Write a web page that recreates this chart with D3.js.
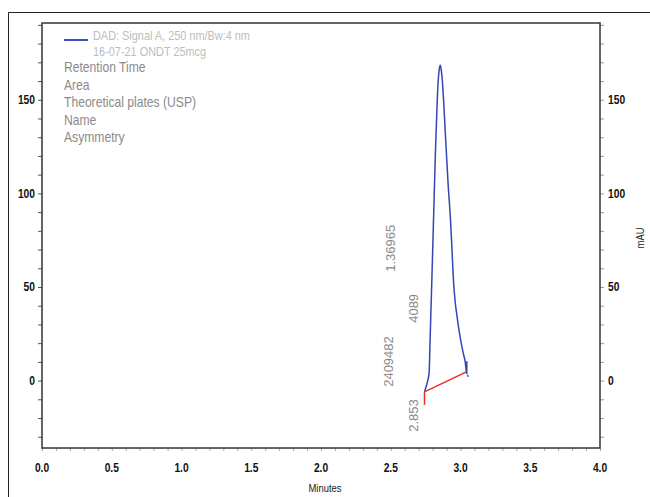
<!DOCTYPE html>
<html><head><meta charset="utf-8">
<script src="https://cdn.jsdelivr.net/npm/d3@7/dist/d3.min.js"></script>
<style>body{margin:0;background:#fff}svg{display:block}</style>
</head><body>
<svg id="chart" width="650" height="497"></svg>
<script>
// ---- data ----
const time   = [2.742, 2.760, 2.775, 2.782, 2.790, 2.800, 2.810, 2.820, 2.830, 2.840, 2.848, 2.855, 2.862, 2.870, 2.880, 2.890, 2.900, 2.912, 2.927, 2.939, 2.950, 2.962, 2.975, 2.990, 3.004, 3.020, 3.034, 3.042, 3.063];
const signal = [-6.0, -1.5,  4.0,  22,   42,   68,    95,    121,   143,   160,   166.5, 168.5, 166,   160,   148,   134,   120,   104,   87.6,  70,    53,    42,    34.4,  26.5,  20.5,  14.5,  9.9,   4.5,   0.8];
const baselineTime   = [2.742, 3.038];
const baselineSignal = [-6.0, 4.5];
const xTicks = [0, 0.5, 1.0, 1.5, 2.0, 2.5, 3.0, 3.5, 4.0];
const yTicks = [0, 50, 100, 150];
const legendSeries = "DAD: Signal A, 250 nm/Bw:4 nm";
const legendSample = "16-07-21 ONDT 25mcg";
const peakFields = ["Retention Time", "Area", "Theoretical plates (USP)", "Name", "Asymmetry"];
const peakValues = ["2.853", "2409482", "4089", "", "1.36965"];
const xTitle = "Minutes";
const yTitle = "mAU";

// ---- layout ----
const svg = d3.select("#chart");
const L = 42, R = 600, T = 23, B = 448;
const x = d3.scaleLinear().domain([0, 4]).range([L, R]);
const y = d3.scaleLinear().domain([-36, 191]).range([B, T]);
const sans = "'Liberation Sans',Arial,sans-serif";
const SX = 0.82; // condensed look

function ntext(parent, tx, ty, str, size, fill, anchor, rot, weight) {
  const g = parent.append("g").attr("transform", `translate(${tx},${ty})` + (rot ? ` rotate(${rot})` : "") + ` scale(${SX},1)`);
  return g.append("text").attr("font-family", sans).attr("font-size", size).attr("fill", fill)
    .attr("font-weight", weight || "normal")
    .attr("text-anchor", anchor || "start").text(str);
}

// outer frame (only left/top visible)
svg.append("line").attr("x1", 8.5).attr("x2", 8.5).attr("y1", 12.5).attr("y2", 497).attr("stroke", "#222");
svg.append("line").attr("x1", 8.5).attr("x2", 650).attr("y1", 12.5).attr("y2", 12.5).attr("stroke", "#222");

// axis ticks via d3 axes
const minorY = d3.range(-30, 191, 10);
const minorX = d3.range(0, 4.001, 0.1);
const yLeft = svg.append("g").attr("transform", `translate(${L},0)`)
  .call(d3.axisLeft(y).tickValues(minorY).tickSize(4).tickFormat(""));
const yRight = svg.append("g").attr("transform", `translate(${R},0)`)
  .call(d3.axisRight(y).tickValues(minorY).tickSize(4).tickFormat(""));
const xBot = svg.append("g").attr("transform", `translate(0,${B})`)
  .call(d3.axisBottom(x).tickValues(minorX).tickSize(3).tickFormat(""));
[yLeft, yRight, xBot].forEach(g => {
  g.select(".domain").remove();
  g.selectAll(".tick line").attr("stroke", "#555");
});
xBot.selectAll(".tick line").attr("stroke", "#aaa");
yRight.selectAll(".tick line").attr("stroke", "#999");

// tick labels (positions from the scales)
const tl = svg.append("g");
yTicks.forEach(v => {
  ntext(tl, L - 7, y(v) + 4.5, String(v), 12.5, "#111", "end", 0, 600);
  ntext(tl, R + 8, y(v) + 4.5, String(v), 12.5, "#111", "start", 0, 600);
});
xTicks.forEach(v => ntext(tl, x(v), B + 24, d3.format(".1f")(v), 12.5, "#111", "middle", 0, 600));

// plot box
svg.append("rect").attr("x", L).attr("y", T).attr("width", R - L).attr("height", B - T)
  .attr("fill", "none").attr("stroke", "#333").attr("stroke-width", 1.5);

// titles
ntext(svg, 325, 492, xTitle, 11.5, "#1a1a1a", "middle");
ntext(svg, 644, 238, yTitle, 11.5, "#1a1a1a", "middle", -90);

// legend
svg.append("line").attr("x1", 64).attr("x2", 88).attr("y1", 40).attr("y2", 40)
  .attr("stroke", "#3a4fc0").attr("stroke-width", 2);
ntext(svg, 93, 39.5, legendSeries, 13.3, "#bdbdbd");
ntext(svg, 93, 55.5, legendSample, 13.3, "#bdbdbd");
peakFields.forEach((d, i) => ntext(svg, 64, 72 + i * 17.5, d, 14.8, "#8a8a8a"));

// signal trace
const line = d3.line().x(i => x(time[i])).y(i => y(signal[i])).curve(d3.curveMonotoneX);
svg.append("path").attr("d", line(d3.range(time.length - 1)))
  .attr("fill", "none").attr("stroke", "#3446b4").attr("stroke-width", 1.5);
const n = time.length - 1;
svg.append("line").attr("x1", x(time[n - 1])).attr("y1", y(signal[n - 1]))
  .attr("x2", x(time[n])).attr("y2", y(signal[n]))
  .attr("stroke", "#3446b4").attr("stroke-width", 1.5).attr("stroke-dasharray", "0,3,2,10");

// baseline + markers
svg.append("line").attr("x1", x(baselineTime[0])).attr("y1", y(baselineSignal[0]))
  .attr("x2", x(baselineTime[1])).attr("y2", y(baselineSignal[1]))
  .attr("stroke", "#f02a2a").attr("stroke-width", 1.5);
svg.append("line").attr("x1", x(baselineTime[0])).attr("x2", x(baselineTime[0]))
  .attr("y1", y(baselineSignal[0])).attr("y2", y(baselineSignal[0]) + 13)
  .attr("stroke", "#f02a2a").attr("stroke-width", 1.5);
svg.append("line").attr("x1", x(baselineTime[1]) + 1).attr("x2", x(baselineTime[1]) + 1)
  .attr("y1", y(baselineSignal[1]) - 11).attr("y2", y(baselineSignal[1]) + 2)
  .attr("stroke", "#3446b4").attr("stroke-width", 1.5);

// peak annotations (rotated)
const rtX = x(+peakValues[0]);
const by = y(baselineSignal[0]);
const annot = [
  {v: peakValues[0], dx: -22, dy: 40},
  {v: peakValues[1], dx: -47, dy: -5},
  {v: peakValues[2], dx: -22, dy: -69},
  {v: peakValues[4], dx: -45, dy: -120}
];
svg.append("g").selectAll("text").data(annot).join("text")
  .attr("transform", d => `translate(${rtX + d.dx},${by + d.dy}) rotate(-90)`)
  .attr("font-family", sans).attr("font-size", 13).attr("fill", "#8a8a8a").text(d => d.v);
</script>
</body></html>
